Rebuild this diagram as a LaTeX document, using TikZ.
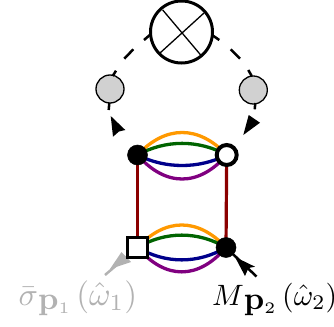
\documentclass[tikz,border=0pt]{standalone}
\usepackage{amsmath,amssymb}
\usetikzlibrary{backgrounds}
\definecolor{lorange}{RGB}{255,153,0}
\definecolor{lgreen}{RGB}{0,100,0}
\definecolor{lblue}{RGB}{0,0,139}
\definecolor{lpurple}{RGB}{128,0,128}
\definecolor{lred}{RGB}{139,0,0}
\definecolor{lgray}{RGB}{178,178,178}
\newcommand{\lowp}[1]{{\lower 1.1pt\hbox{$\mathbf{p}_{\scriptscriptstyle #1}$}}}
\tikzset{
  vdot/.style={circle,fill=black,draw=black,line width=0.5pt,minimum size=20pt,inner sep=0pt},
  vopen/.style={circle,fill=white,draw=black,line width=4pt,minimum size=20pt,inner sep=0pt},
  vsquare/.style={rectangle,fill=white,draw=black,line width=3.5pt,minimum size=20pt,inner sep=0pt},
  blob/.style={circle,fill=black!18,draw=black,line width=1.3pt,minimum size=28pt,inner sep=0pt},
  bigc/.style={circle,fill=white,draw=black,line width=3pt,minimum size=62pt,inner sep=0pt},
  dashseg/.style={line width=2.5pt,black},
  fine/.style={line width=1.3pt,black},
  arc/.style={line width=3.3pt},
  rung/.style={line width=3.2pt,lred},
  lab/.style={inner sep=0pt,scale=3.2,anchor=base west}
}
\begin{document}
\begin{tikzpicture}[x=1pt,y=-1pt]
\useasboundingbox (0,0) rectangle (334,326);
\node[bigc] (X) at (181.5,32) {};
\node[blob] (L) at (110,89) {};
\node[blob] (R) at (253.3,90) {};
\node[vdot] (A) at (137.5,155) {};
\node[vopen] (B) at (226.7,155) {};
\node[vsquare] (C) at (137.5,247.5) {};
\node[vdot] (D) at (226,247.5) {};
\coordinate (xa) at (162.7,10); \coordinate (xb) at (200.7,55);
\coordinate (xc) at (204,13);   \coordinate (xd) at (160,53);
\draw[fine] (xa) -- (xb);
\draw[fine] (xc) -- (xd);
\coordinate (st) at (105,275);
\coordinate (mt) at (256.5,276.5);
\begin{pgfonlayer}{background}
\draw[rung] (A.center) -- (C.center);
\draw[rung] (B.center) -- (D.center);
\draw[arc,lorange] (A.center) .. controls +(28,-30) and +(-28,-30) .. (B.center);
\draw[arc,lgreen] (A.center) .. controls +(28,-15.5) and +(-28,-15.5) .. (B.center);
\draw[arc,lblue] (A.center) .. controls +(28,14) and +(-28,14) .. (B.center);
\draw[arc,lpurple] (A.center) .. controls +(28,32) and +(-28,32) .. (B.center);
\draw[arc,lorange] (C.center) .. controls +(28,-30) and +(-28,-30) .. (D.center);
\draw[arc,lgreen] (C.center) .. controls +(28,-16.5) and +(-28,-16.5) .. (D.center);
\draw[arc,lblue] (C.center) .. controls +(28,16.5) and +(-28,16.5) .. (D.center);
\draw[arc,lpurple] (C.center) .. controls +(28,32.5) and +(-28,32.5) .. (D.center);
\fill[lgray] (110,269) -- (121.5,252) -- (131,262) -- cycle;
\draw[line width=2.5pt,lgray] (st) -- (C.center);
\draw[line width=2.5pt,black] (mt) -- (D.center);
\fill[black] (235,257) -- (255,266.7) -- (248.5,268) -- (245,276) -- cycle;
\end{pgfonlayer}
% dashes, left
\coordinate (l1) at (151,34); \coordinate (l2) at (144,40);
\coordinate (l3) at (133.3,49.3); \coordinate (l4) at (124.3,58.7);
\coordinate (l5) at (116,70.7); \coordinate (l6) at (112.7,76);
\coordinate (l7) at (109.3,103); \coordinate (l8) at (108.7,110);
\draw[dashseg] (l1) -- (l2); \draw[dashseg] (l3) -- (l4);
\draw[dashseg] (l5) -- (l6); \draw[dashseg] (l7) -- (l8);
% dashes, right
\coordinate (r1) at (212,35); \coordinate (r2) at (219.3,40);
\coordinate (r3) at (230.7,49.3); \coordinate (r4) at (240,58.7);
\coordinate (r5) at (248.3,70); \coordinate (r6) at (251.7,76);
\coordinate (r7) at (255.3,103); \coordinate (r8) at (254.7,109.3);
\draw[dashseg] (r1) -- (r2); \draw[dashseg] (r3) -- (r4);
\draw[dashseg] (r5) -- (r6); \draw[dashseg] (r7) -- (r8);
% arrowheads on the loop
\fill[black] (110.7,116) -- (125.3,130) -- (119,131.5) -- (113,136.7) -- cycle;
\fill[black] (248.7,115) -- (260,122.7) -- (243.3,135) -- cycle;
% labels
\node[lab,text=lgray] (s) at (18,305.5) {$\bar\sigma\lowp{1}\,$\scalebox{1.03}{$(\hat\omega_1)$}};
\node[lab] (m) at (211.5,305.5) {\scalebox{.92}{$M$}$\lowp{2}\,$\scalebox{.93}{$(\hat\omega_2)$}};
\end{tikzpicture}
\end{document}
